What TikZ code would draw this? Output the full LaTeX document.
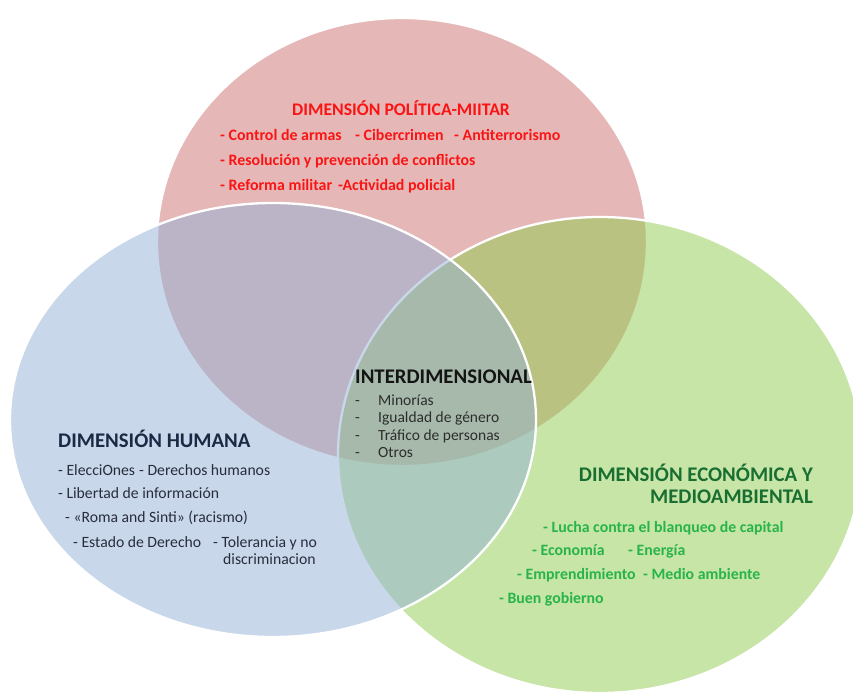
\documentclass[tikz,border=0pt]{standalone}
\usepackage{fontspec}
\setmainfont{Carlito}
\definecolor{redfill}{RGB}{229,184,183}
\definecolor{greenfill}{RGB}{145,205,79}
\definecolor{bluefill}{RGB}{147,177,213}
\definecolor{redtext}{RGB}{250,20,20}
\definecolor{greentitle}{RGB}{25,110,50}
\definecolor{greentext}{RGB}{40,180,75}
\definecolor{bluetitle}{RGB}{28,40,68}
\definecolor{bluetext}{RGB}{40,45,62}
\definecolor{midtitle}{RGB}{20,20,20}
\definecolor{midtext}{RGB}{45,45,45}
\begin{document}
\begin{tikzpicture}[x=1pt,y=-1pt,
  venn/.style={draw=white,line width=2.3pt},
  txt/.style={inner sep=0pt,anchor=base west},
  poltitle/.style={txt,text=redtext,font=\fontsize{17.7}{20}\selectfont\bfseries},
  politem/.style={txt,text=redtext,font=\fontsize{15.9}{18}\selectfont\bfseries},
  humtitle/.style={txt,text=bluetitle,font=\fontsize{20.8}{24}\selectfont\bfseries},
  humitem/.style={txt,text=bluetext,font=\fontsize{15.7}{18}\selectfont},
  midtitlestyle/.style={txt,text=midtitle,font=\fontsize{20.8}{24}\selectfont\bfseries},
  miditem/.style={txt,text=midtext,font=\fontsize{15.5}{18}\selectfont},
  ecotitle/.style={inner sep=0pt,anchor=base east,text=greentitle,font=\fontsize{20.8}{24}\selectfont\bfseries},
  ecoitem/.style={txt,text=greentext,font=\fontsize{15.8}{18}\selectfont\bfseries}]
\useasboundingbox (0,0) rectangle (853,695);
\clip (0,0) rectangle (853,695);
\fill[white] (0,0) rectangle (853,695);

% the three dimensions
\path[venn,fill=redfill] (402,242) ellipse [x radius=245,y radius=224];
\path[venn,fill=greenfill,fill opacity=0.5] (600,455) ellipse [x radius=262,y radius=238];
\path[venn,fill=bluefill,fill opacity=0.5] (273,420) ellipse [x radius=263,y radius=217];

% political-military dimension
\node[poltitle] (pt) at (292,116) {DIMENSIÓN POLÍTICA-MIITAR};
\node[politem] (p1a) at (220,141) {- Control de armas};
\node[politem] (p1b) at (355,141) {- Cibercrimen};
\node[politem] (p1c) at (454,141) {- Antiterrorismo};
\node[politem] (p2) at (220,165) {- Resolución y prevención de conflictos};
\node[politem] (p3a) at (220,190) {- Reforma militar};
\node[politem] (p3b) at (338,190) {-Actividad policial};

% cross-dimensional topics
\node[midtitlestyle] (mt) at (355,383) {INTERDIMENSIONAL};
\foreach \t/\y [count=\i] in {Minorías/405,Igualdad de género/422,Tráfico de personas/440,Otros/457}{
  \node[miditem] (md\i) at (355,\y) {-};
  \node[miditem] (mi\i) at (378,\y) {\t};
}

% human dimension
\node[humtitle] (ht) at (58,447) {DIMENSIÓN HUMANA};
\node[humitem] (h1a) at (58,475) {- ElecciOnes};
\node[humitem] (h1b) at (139,475) {- Derechos humanos};
\node[humitem] (h2) at (58,498) {- Libertad de información};
\node[humitem] (h3) at (65,522) {- «Roma and Sinti» (racismo)};
\node[humitem] (h4a) at (73,547) {- Estado de Derecho};
\node[humitem] (h4b) at (213,547) {- Tolerancia y no};
\node[humitem] (h5) at (223,564) {discriminacion};

% economic and environmental dimension
\node[ecotitle] (et1) at (813,481) {DIMENSIÓN ECONÓMICA Y};
\node[ecotitle] (et2) at (813,503) {MEDIOAMBIENTAL};
\node[ecoitem] (e1) at (543,532) {- Lucha contra el blanqueo de capital};
\node[ecoitem] (e2a) at (532,555) {- Economía};
\node[ecoitem] (e2b) at (628,555) {- Energía};
\node[ecoitem] (e3a) at (517,579) {- Emprendimiento};
\node[ecoitem] (e3b) at (643,579) {- Medio ambiente};
\node[ecoitem] (e4) at (499,603) {- Buen gobierno};
\end{tikzpicture}
\end{document}
